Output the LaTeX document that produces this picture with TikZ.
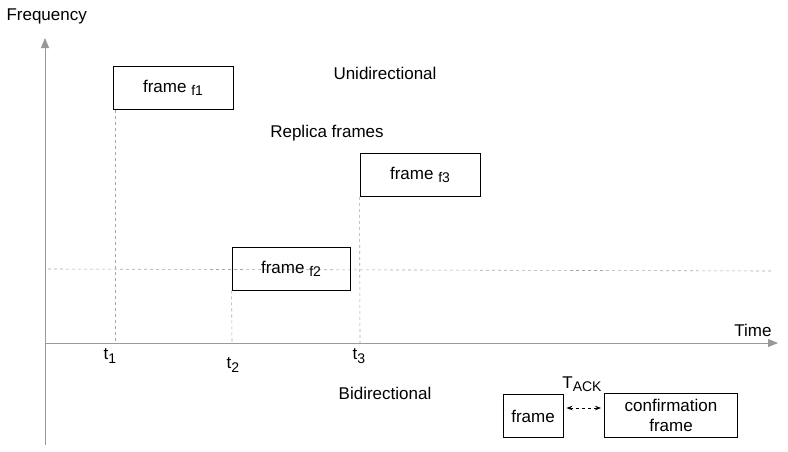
\documentclass[tikz,border=0pt]{standalone}
\usepackage{fontspec}
\setmainfont{Liberation Sans}
\usetikzlibrary{arrows.meta}
\newcommand{\sbs}[1]{\raisebox{-0.35ex}{\fontsize{14}{16}\selectfont #1}}
\begin{document}
\begin{tikzpicture}[x=1pt,y=-1pt,
  box/.style={draw,line width=0.9pt,minimum width=#1,minimum height=43pt,inner sep=0pt},
  box/.default=120pt,
  lbl/.style={font=\fontsize{17}{20}\selectfont},
  ax/.style={draw=gray!80,line width=0.9pt,-{Triangle[length=10pt,width=8pt]}},
  guide/.style={draw=gray!70,dashed,line width=0.6pt}]
\useasboundingbox (0,0) rectangle (788,451);
\coordinate (o) at (45,343);
\coordinate (ytop) at (45,38);
\coordinate (ybot) at (45,445);
\coordinate (xend) at (778,343);
\draw[ax] (ybot) -- (ytop);
\draw[ax] (o) -- (xend);
\node[lbl,anchor=west] (freq) at (3,16) {Frequency};
\node[lbl] (time) at (753,330) {Time};
\coordinate (hl) at (48,269);
\coordinate (hr) at (772,271);
\draw[guide] (hl) -- (hr);
\node[box,lbl] (f1) at (173,88) {frame \sbs{f1}};
\node[box,lbl] (f3) at (420,175) {frame \sbs{f3}};
\node[box=118pt,lbl] (f2) at (291,268.5) {frame \sbs{f2}};
\coordinate (a1) at (115,343);
\coordinate (a2) at (232,343);
\coordinate (a3) at (360,343);
\draw[guide] (f1.south west -| a1) -- (a1);
\draw[guide] (f2.south west) -- (a2);
\draw[guide] (f3.south west) -- (a3);
\node[lbl] (t1) at (110,356) {t\sbs{1}};
\node[lbl] (t2) at (233,365) {t\sbs{2}};
\node[lbl] (t3) at (359,356) {t\sbs{3}};
\node[lbl] (uni) at (385,73) {Unidirectional};
\node[lbl] (rep) at (327,133) {Replica frames};
\node[lbl] (bi) at (385,393) {Bidirectional};
\node[draw,line width=0.9pt,minimum width=60pt,minimum height=43pt,lbl] (fr) at (533,416) {frame};
\node[draw,line width=0.9pt,minimum width=133pt,minimum height=44pt,lbl,align=center,inner sep=0pt] (cf) at (671,415) {confirmation\\frame};
\draw[dashed,line width=0.9pt,{Stealth[length=6pt]}-{Stealth[length=6pt]}] (fr.east |- 0,408) ++(3,0) -- ([xshift=-3pt]cf.west |- 0,408);
\node[lbl] (tack) at (582,384) {T\sbs{ACK}};
\end{tikzpicture}
\end{document}
